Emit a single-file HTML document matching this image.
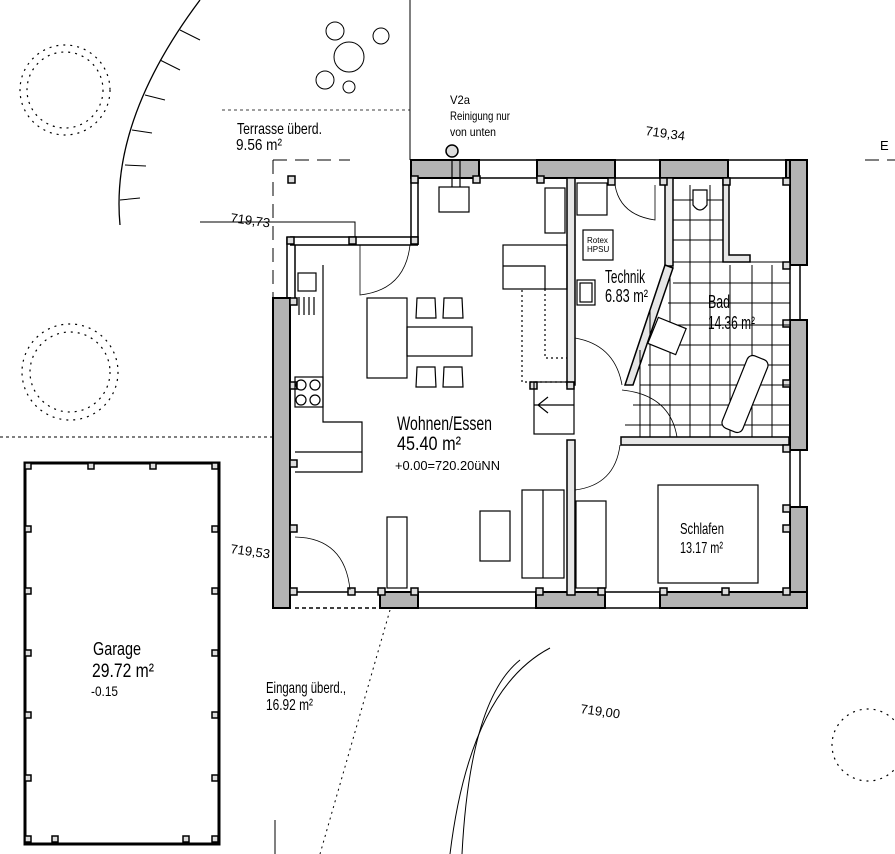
<!DOCTYPE html>
<html><head><meta charset="utf-8"><style>
html,body{margin:0;padding:0;background:#fff}
svg{display:block}
text{font-family:"Liberation Sans Narrow","Liberation Sans",sans-serif;fill:#000}
</style></head><body>
<svg width="895" height="854" viewBox="0 0 895 854" xmlns="http://www.w3.org/2000/svg">
<g fill="none" stroke="#000" stroke-width="1">
<path d="M200 0 Q110 120 120 225" stroke-width="1.3"/>
<path d="M180 30 L200 40 M160 60 L180 70 M145 95 L165 100 M132 130 L152 133 M125 165 L146 166 M120 200 L140 198"/>
<path d="M410 0 L410 160" />
<path d="M222 110 L410 110" stroke-dasharray="3,3" stroke-width="0.8"/>
<path d="M273 160 L350 160" stroke-dasharray="14,8"/>
<path d="M273 160 L273 300" stroke-dasharray="14,8"/>
<path d="M200 222 L355 222 L355 237" />
<circle cx="349" cy="57" r="15"/><circle cx="335" cy="31" r="9"/><circle cx="325" cy="80" r="9"/><circle cx="349" cy="87" r="6"/><circle cx="381" cy="36" r="8"/>
<path d="M0 437 L273 437" stroke-dasharray="3,3"/>
<path d="M865 160 L895 160" stroke-dasharray="14,8"/>
<path d="M550 648 Q470 690 450 854" /><path d="M520 660 Q470 700 462 854"/>
<path d="M390 610 L320 854" stroke-dasharray="2,4"/>
<path d="M275 820 L275 854"/>
</g>
<g fill="none" stroke="#000" stroke-width="1.2" stroke-dasharray="2,5">
<circle cx="65" cy="90" r="45"/><circle cx="65" cy="90" r="38"/><circle cx="70" cy="372" r="48"/><circle cx="70" cy="372" r="40"/><circle cx="868" cy="745" r="36"/>
</g>
<rect x="25" y="463" width="194" height="381" fill="none" stroke="#000" stroke-width="3"/>
<g fill="#ddd" stroke="#000" stroke-width="1.5">
<rect x="25" y="463" width="6" height="6"/><rect x="88" y="463" width="6" height="6"/><rect x="150" y="463" width="6" height="6"/><rect x="212" y="463" width="6" height="6"/>
<rect x="25" y="526" width="6" height="6"/><rect x="25" y="588" width="6" height="6"/><rect x="25" y="650" width="6" height="6"/><rect x="25" y="712" width="6" height="6"/><rect x="25" y="775" width="6" height="6"/><rect x="25" y="836" width="6" height="6"/>
<rect x="212" y="526" width="6" height="6"/><rect x="212" y="588" width="6" height="6"/><rect x="212" y="650" width="6" height="6"/><rect x="212" y="712" width="6" height="6"/><rect x="212" y="775" width="6" height="6"/><rect x="212" y="836" width="6" height="6"/>
<rect x="52" y="836" width="6" height="6"/><rect x="183" y="836" width="6" height="6"/>
</g>
<g fill="#b3b3b3" stroke="#000" stroke-width="2">
<rect x="411" y="160" width="68" height="18"/>
<rect x="537" y="160" width="78" height="18"/>
<rect x="660" y="160" width="68" height="18"/>
<rect x="786" y="160" width="21" height="18"/>
<rect x="790" y="160" width="17" height="105"/>
<rect x="790" y="320" width="17" height="130"/>
<rect x="790" y="507" width="17" height="101"/>
<rect x="273" y="298" width="17" height="310"/>
<rect x="380" y="592" width="38" height="16"/>
<rect x="536" y="592" width="69" height="16"/>
<rect x="660" y="592" width="147" height="16"/>
</g>
<g fill="none" stroke="#000" stroke-width="1.5">
<path d="M479 160 L537 160 M479 178 L537 178 M615 160 L660 160 M615 178 L660 178 M728 160 L786 160 M728 178 L786 178"/>
<path d="M290 237 L418 237 M290 245 L418 245 M411 178 L411 245 M418 178 L418 245 M287 237 L287 298 M295 245 L295 298"/>
<path d="M418 608 L536 608 M605 608 L660 608 M290 592 L380 592 M418 592 L536 592 M605 592 L660 592"/>
<path d="M295 608 L380 608" stroke-dasharray="4,3"/>
<path d="M790 265 L790 320 M800 265 L800 320 M790 450 L790 507 M800 450 L800 507"/>
</g>
<g fill="#e6e6e6" stroke="#000" stroke-width="1.5">
<rect x="567" y="178" width="8" height="207"/>
<rect x="567" y="440" width="8" height="155"/>
<rect x="665" y="178" width="8" height="88"/>
<path d="M665 265 L673 268 L633 385 L625 385 Z"/>
<rect x="621" y="437" width="168" height="8"/>
<path d="M723 178 L729 178 L729 255 L750 255 L750 262 L723 262 Z"/>
</g>
<g fill="#ddd" stroke="#000" stroke-width="1.5">
<rect x="288" y="176" width="7" height="7"/><rect x="411" y="176" width="7" height="7"/><rect x="473" y="176" width="7" height="7"/><rect x="537" y="176" width="7" height="7"/>
<rect x="287" y="237" width="7" height="7"/><rect x="349" y="237" width="7" height="7"/><rect x="411" y="237" width="7" height="7"/>
<rect x="290" y="298" width="7" height="7"/><rect x="290" y="382" width="7" height="7"/><rect x="290" y="460" width="7" height="7"/><rect x="290" y="525" width="7" height="7"/><rect x="290" y="588" width="7" height="7"/>
<rect x="348" y="588" width="7" height="7"/><rect x="378" y="588" width="7" height="7"/><rect x="411" y="588" width="7" height="7"/>
<rect x="536" y="588" width="7" height="7"/><rect x="598" y="588" width="7" height="7"/><rect x="660" y="588" width="7" height="7"/><rect x="722" y="588" width="7" height="7"/><rect x="783" y="588" width="7" height="7"/>
<rect x="530" y="382" width="7" height="7"/><rect x="567" y="382" width="7" height="7"/><rect x="608" y="178" width="7" height="7"/><rect x="660" y="178" width="7" height="7"/><rect x="723" y="178" width="7" height="7"/><rect x="783" y="178" width="7" height="7"/>
<rect x="783" y="262" width="7" height="7"/><rect x="783" y="320" width="7" height="7"/><rect x="783" y="380" width="7" height="7"/><rect x="783" y="445" width="7" height="7"/><rect x="783" y="505" width="7" height="7"/><rect x="783" y="525" width="7" height="7"/>
<rect x="446" y="145" width="12" height="12" rx="6"/>
</g>
<g stroke="#000" stroke-width="1" fill="none">
<path d="M690 185 L690 437 M710 185 L710 437 M730 265 L730 437 M752 265 L752 437 M772 265 L772 437 M650 310 L650 437 M670 278 L670 437 M640 350 L640 437"/>
<path d="M673 200 L723 200 M673 220 L723 220 M673 240 L723 240 M673 262 L790 262 M673 283 L790 283 M668 303 L790 303 M660 325 L790 325 M655 345 L790 345 M648 365 L790 365 M640 385 L790 385 M633 405 L790 405 M625 425 L790 425"/>
</g>
<g fill="#fff" stroke="#000" stroke-width="1.2">
<rect x="734" y="355" width="22" height="78" rx="6" transform="rotate(22 745 394)"/>
<rect x="652" y="322" width="30" height="28" transform="rotate(22 667 336)"/>
<path d="M693 190 L707 190 L707 205 Q700 215 693 205 Z"/>
</g>
<g fill="none" stroke="#000" stroke-width="1.2">
<rect x="439" y="187" width="30" height="25"/><path d="M452 160 L452 187 M460 160 L460 187"/>
<rect x="545" y="188" width="20" height="45"/>
<rect x="503" y="245" width="64" height="44"/><path d="M503 266 L545 266 L545 289"/>
<path d="M522 290 L522 382 L567 382 M545 289 L545 358 L567 358" stroke-dasharray="2,3"/>
<rect x="534" y="382" width="40" height="52"/><path d="M534 405 L574 405 M548 397 L538 405 L548 413"/>
<rect x="367" y="298" width="40" height="80"/><rect x="407" y="327" width="65" height="29"/>
<path d="M417 298 L435 298 L436 318 L416 318 Z M444 298 L462 298 L463 318 L443 318 Z M417 367 L435 367 L436 387 L416 387 Z M444 367 L462 367 L463 387 L443 387 Z"/>
<path d="M323 265 L323 422 L362 422 L362 472 L295 472 M295 452 L362 452"/>
<rect x="298" y="273" width="18" height="18"/>
<path d="M299 297 L299 315 M304 297 L304 315 M309 297 L309 315 M314 297 L314 315"/>
<rect x="295" y="377" width="28" height="30"/>
<circle cx="301" cy="385" r="5"/><circle cx="315" cy="385" r="5"/><circle cx="301" cy="400" r="5"/><circle cx="315" cy="400" r="5"/>
<rect x="387" y="517" width="20" height="71"/><rect x="480" y="511" width="30" height="50"/>
<rect x="522" y="490" width="42" height="88"/><path d="M543 490 L543 578"/>
<rect x="576" y="501" width="30" height="87"/>
<rect x="658" y="485" width="100" height="98"/>
<rect x="577" y="183" width="30" height="32"/><rect x="583" y="230" width="30" height="30"/>
<rect x="577" y="280" width="18" height="25"/><rect x="580" y="283" width="12" height="19"/>
<path d="M360 245 L360 295 Q405 290 410 245" stroke-width="0.8"/>
<path d="M295 537 Q345 538 350 590" stroke-width="0.8"/>
<path d="M575 338 Q615 345 622 385" stroke-width="0.8"/>
<path d="M622 390 Q670 395 677 437" stroke-width="0.8"/>
<path d="M575 490 Q615 485 620 445" stroke-width="0.8"/>
<path d="M615 185 Q620 215 655 220 L655 185" stroke-width="0.8"/>
</g>
<g font-size="16">
<text x="237" y="134" textLength="85" lengthAdjust="spacingAndGlyphs">Terrasse überd.</text>
<text x="236" y="150" textLength="46" lengthAdjust="spacingAndGlyphs">9.56 m²</text>
<text x="397" y="430" font-size="19" textLength="95" lengthAdjust="spacingAndGlyphs">Wohnen/Essen</text>
<text x="397" y="450" font-size="19" textLength="64" lengthAdjust="spacingAndGlyphs">45.40 m²</text>
<text x="395" y="470" font-size="13" textLength="105" lengthAdjust="spacingAndGlyphs">+0.00=720.20üNN</text>
<text x="605" y="283" font-size="18" textLength="40" lengthAdjust="spacingAndGlyphs">Technik</text>
<text x="605" y="302" font-size="18" textLength="43" lengthAdjust="spacingAndGlyphs">6.83 m²</text>
<text x="708" y="308" font-size="18" textLength="22" lengthAdjust="spacingAndGlyphs">Bad</text>
<text x="708" y="329" font-size="18" textLength="47" lengthAdjust="spacingAndGlyphs">14.36 m²</text>
<text x="680" y="534" textLength="44" lengthAdjust="spacingAndGlyphs">Schlafen</text>
<text x="680" y="553" textLength="43" lengthAdjust="spacingAndGlyphs">13.17 m²</text>
<text x="93" y="655" font-size="18" textLength="48" lengthAdjust="spacingAndGlyphs">Garage</text>
<text x="92" y="677" font-size="19" textLength="62" lengthAdjust="spacingAndGlyphs">29.72 m²</text>
<text x="91" y="696" font-size="14" textLength="27" lengthAdjust="spacingAndGlyphs">-0.15</text>
<text x="266" y="693" textLength="80" lengthAdjust="spacingAndGlyphs">Eingang überd.,</text>
<text x="266" y="710" textLength="47" lengthAdjust="spacingAndGlyphs">16.92 m²</text>
<text x="587" y="243" font-size="8">Rotex</text><text x="587" y="252" font-size="8">HPSU</text>
<text x="450" y="104" font-size="12" textLength="20" lengthAdjust="spacingAndGlyphs">V2a</text>
<text x="450" y="120" font-size="12" textLength="60" lengthAdjust="spacingAndGlyphs">Reinigung nur</text>
<text x="450" y="136" font-size="12" textLength="46" lengthAdjust="spacingAndGlyphs">von unten</text>
</g>
<g font-size="13" fill="#444">
<text x="645" y="135" transform="rotate(8 645 135)">719,34</text>
<text x="230" y="222" transform="rotate(8 230 222)">719,73</text>
<text x="230" y="553" transform="rotate(8 230 553)">719,53</text>
<text x="580" y="713" transform="rotate(8 580 713)">719,00</text>
<text x="880" y="150">E</text>
</g>
</svg>
</body></html>
